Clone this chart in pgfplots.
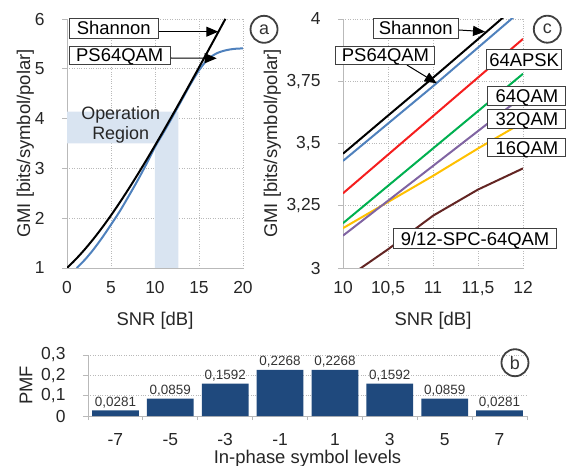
\documentclass[border=0pt]{standalone}
\usepackage{fontspec}
\setmainfont{Liberation Sans}
\usepackage{pgfplots}
\pgfplotsset{compat=1.18}
\usetikzlibrary{arrows.meta}
\definecolor{psblue}{RGB}{79,129,189}
\definecolor{apskred}{RGB}{245,30,30}
\definecolor{qamgreen}{RGB}{0,176,80}
\definecolor{qampurple}{RGB}{128,100,162}
\definecolor{qamyellow}{RGB}{255,192,0}
\definecolor{spcbrown}{RGB}{99,37,35}
\definecolor{barblue}{RGB}{31,73,125}
\definecolor{opreg}{RGB}{217,228,241}
\definecolor{boxc}{RGB}{64,64,64}
\definecolor{axc}{RGB}{185,185,185}
\tikzset{
  lbl/.style={draw=boxc, fill=white, line width=1bp, inner sep=0pt,
    font=\fontsize{18.5}{20}\selectfont, text height=13.3bp, text depth=0bp},
  circ/.style={draw=boxc, circle, line width=1.8bp, minimum size=27bp, inner sep=0pt,
    font=\fontsize{18}{20}\selectfont, text=black!80},
}
\begin{document}
\begin{tikzpicture}
\path[use as bounding box] (0,0) rectangle (567bp,466bp);
\pgfplotsset{
  base/.style={
    scale only axis, anchor=south west,
    axis lines*=left,
    axis line style={draw=axc, line width=0.8bp},
    tick align=outside, major tick length=5bp,
    ytick style={draw=axc, line width=0.8bp},
    xtick style={draw=none},
    major grid style={draw=gray!55, dotted, line width=0.7bp},
    tick label style={font=\fontsize{17.5}{20}\selectfont, text=black!85},
    label style={font=\fontsize{18.5}{22}\selectfont, text=black!85},
    xticklabel style={anchor=north, yshift=-5bp},
    yticklabel style={anchor=east, xshift=-14bp},
    clip mode=individual,
  },
}
% ---------------- panel a
\begin{axis}[base, at={(67bp,198bp)}, width=176bp, height=249bp,
  xmin=0, xmax=20, ymin=1, ymax=6,
  xtick={0,5,10,15,20}, xticklabels={0,5,10,15,20},
  ytick={1,2,3,4,5,6}, yticklabels={1,2,3,4,5,6},
  grid=major,
  xlabel={SNR [dB]}, ylabel={GMI [bits/symbol/polar]},
  xlabel style={at={(axis description cs:0.5,-0.213)}, anchor=center},
  ylabel style={at={(axis description cs:-0.236,0.5)}, anchor=center},
]
\addplot[fill=opreg, draw=none] coordinates {(0,3.50) (10,3.50) (10,1) (12.65,1) (12.65,4.14) (0,4.14)} -- cycle;
\node[font=\fontsize{18}{20}\selectfont, text=black!85, align=center] at (axis cs:6.1,3.865) {Operation\\Region};
\addplot[psblue, line width=2bp, smooth] coordinates {
(1.1,1.0) (2,1.16) (3,1.37) (4,1.61) (5,1.87) (6,2.14) (7,2.44) (8,2.75) (9,3.08) (10,3.43)
(11,3.73) (12,4.04) (13,4.36) (14,4.68) (15,4.97) (16,5.19) (17,5.31) (18,5.37) (19,5.40) (20,5.41)};
\addplot[black, line width=2bp, smooth] coordinates {
(0,1.0) (1,1.1756) (2,1.370) (3,1.5827) (4,1.8122) (5,2.0574) (6,2.3165) (7,2.5878) (8,2.8698)
(9,3.1608) (10,3.4594) (11,3.7644) (12,4.0746) (13,4.3891) (14,4.7070) (15,5.0278) (16,5.3509)
(17,5.6758) (18,6.0022)};
\draw[black, line width=1bp, -{Triangle[length=12bp,width=10bp]}] (axis cs:10.375,5.745) -- (axis cs:17.19,5.745);
\draw[black, line width=1bp, -{Triangle[length=12bp,width=10bp]}] (axis cs:11.70,5.217) -- (axis cs:17.01,5.211);
\node[lbl, minimum width=89bp, minimum height=20bp] at (axis cs:5.32,5.813) {Shannon};
\node[lbl, minimum width=101bp, minimum height=18bp] at (axis cs:5.99,5.277) {PS64QAM};
\node[circ] at (axis cs:22.39,5.793) {a};
\end{axis}
% ---------------- panel c
\begin{axis}[base, at={(343bp,198bp)}, width=180bp, height=249bp,
  xmin=10, xmax=12, ymin=3, ymax=4,
  xtick={10,10.5,11,11.5,12}, xticklabels={10,{10,5},11,{11,5},12},
  ytick={3,3.25,3.5,3.75,4}, yticklabels={3,{3,25},{3,5},{3,75},4},
  grid=major,
  xlabel={SNR [dB]}, ylabel={GMI [bits/symbol/polar]},
  xlabel style={at={(axis description cs:0.5,-0.213)}, anchor=center},
  ylabel style={at={(axis description cs:-0.392,0.5)}, anchor=center},
]
\addplot[spcbrown, line width=2bp] coordinates {(10,2.95) (10.5,3.075) (11,3.21) (11.5,3.315) (12,3.40)};
\addplot[qamyellow, line width=2bp] coordinates {(10,3.16) (10.5,3.265) (11,3.37) (11.5,3.48) (12,3.585)};
\addplot[qampurple, line width=2bp] coordinates {(10,3.13) (10.5,3.27) (11,3.41) (11.5,3.55) (12,3.69)};
\addplot[qamgreen, line width=2bp] coordinates {(10,3.18) (10.5,3.33) (11,3.48) (11.5,3.63) (12,3.78)};
\addplot[apskred, line width=2bp] coordinates {(10,3.30) (10.5,3.455) (11,3.61) (11.5,3.765) (12,3.92)};
\addplot[psblue, line width=2bp] coordinates {(10,3.43) (10.5,3.58) (11,3.73) (11.5,3.885) (12,4.04)};
\addplot[black, line width=2bp] coordinates {(10,3.459) (10.5,3.612) (11,3.764) (11.5,3.919) (12,4.075)};
\draw[black, line width=1bp, -{Triangle[length=12bp,width=10bp]}] (axis cs:11.281,3.956) -- (axis cs:11.578,3.949);
\draw[black, line width=1bp, -{Triangle[length=12bp,width=10bp]}] (axis cs:10.711,3.815) -- (axis cs:11.041,3.742);
\node[lbl, minimum width=85bp, minimum height=20bp] at (axis cs:10.809,3.963) {Shannon};
\node[lbl, minimum width=99bp, minimum height=17.5bp] at (axis cs:10.472,3.854) {PS64QAM};
\node[lbl, minimum width=75bp, minimum height=19.3bp] at (axis cs:12.013,3.837) {64APSK};
\node[lbl, minimum width=78bp, minimum height=19bp] at (axis cs:12.044,3.690) {64QAM};
\node[lbl, minimum width=78bp, minimum height=18.5bp] at (axis cs:12.044,3.598) {32QAM};
\node[lbl, minimum width=78bp, minimum height=18.5bp] at (axis cs:12.044,3.484) {16QAM};
\node[lbl, minimum width=163bp, minimum height=20bp] at (axis cs:11.467,3.119) {9/12-SPC-64QAM};
\node[circ] at (axis cs:12.27,3.959) {c};
\end{axis}
% ---------------- panel b
\begin{axis}[base, at={(88bp,50bp)}, width=439bp, height=61bp,
  xmin=-0.5, xmax=7.5, ymin=0, ymax=0.3,
  xtick={0,...,7}, xticklabels={-7,-5,-3,-1,1,3,5,7},
  ytick={0,0.1,0.2,0.3}, yticklabels={0,{0,1},{0,2},{0,3}},
  extra x ticks={-0.5,0.5,1.5,2.5,3.5,4.5,5.5,6.5,7.5}, extra x tick labels={},
  extra x tick style={xtick style={draw=axc, line width=0.8bp}, major tick length=4bp},
  ymajorgrids,
  xticklabel style={anchor=north, yshift=-4bp},
  xlabel={In-phase symbol levels}, ylabel={PMF},
  xlabel style={at={(axis description cs:0.5,-0.70)}, anchor=center},
  ylabel style={at={(axis description cs:-0.141,0.5)}, anchor=center},
]
\addplot[ybar, bar width=46.7bp, fill=barblue, draw=none,
  point meta=explicit symbolic,
  nodes near coords, every node near coord/.append style={font=\fontsize{13.5}{15}\selectfont, text=black!80, yshift=-1bp}]
  coordinates {(0,0.0281) [0,0281] (1,0.0859) [0,0859] (2,0.1592) [0,1592] (3,0.2268) [0,2268]
               (4,0.2268) [0,2268] (5,0.1592) [0,1592] (6,0.0859) [0,0859] (7,0.0281) [0,0281]};
\node[circ] at (axis cs:7.281,0.262) {b};
\end{axis}
\end{tikzpicture}
\end{document}
